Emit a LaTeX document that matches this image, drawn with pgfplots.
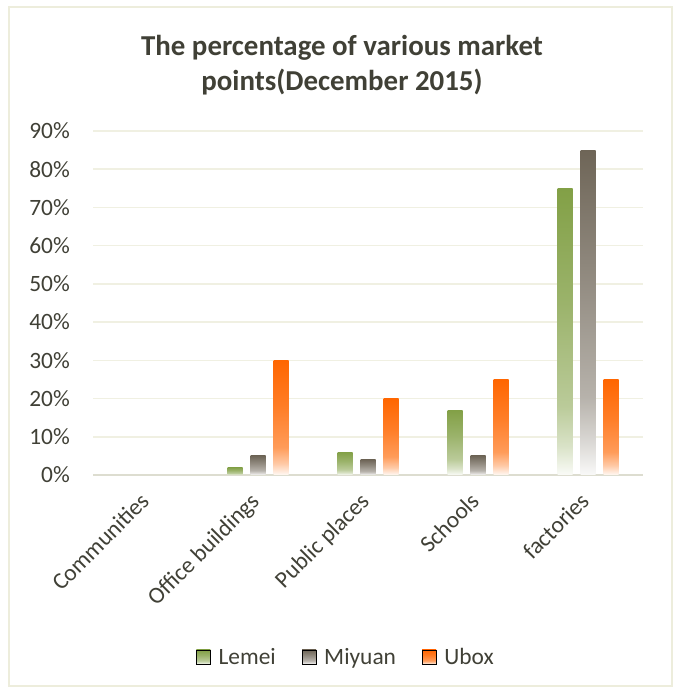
\documentclass[border=0pt]{standalone}
\usepackage{pgfplots}
\pgfplotsset{compat=1.18}
\usepackage{fontspec}
\setmainfont{Carlito}
\definecolor{txt}{HTML}{404036}
\definecolor{lem}{HTML}{82A046}
\definecolor{miy}{HTML}{6E6557}
\definecolor{ubx}{HTML}{FF6600}
\definecolor{gridc}{HTML}{F0F0E2}
\definecolor{bord}{HTML}{EDEDDC}
\pgfdeclareverticalshading{lemsh}{100bp}{color(0bp)=(lem!4); color(25bp)=(lem!4); color(30bp)=(lem!30); color(37bp)=(lem!55); color(55bp)=(lem!80); color(75bp)=(lem); color(100bp)=(lem)}
\pgfdeclareverticalshading{miysh}{100bp}{color(0bp)=(miy!4); color(25bp)=(miy!4); color(30bp)=(miy!25); color(37bp)=(miy!50); color(55bp)=(miy!75); color(75bp)=(miy); color(100bp)=(miy)}
\pgfdeclareverticalshading{ubxsh}{100bp}{color(0bp)=(ubx!4); color(25bp)=(ubx!4); color(30bp)=(ubx!35); color(37bp)=(ubx!65); color(55bp)=(ubx!85); color(75bp)=(ubx); color(100bp)=(ubx)}
% one bar per \addplot so that each bar gets its own gradient
\newcommand\onebar[4]{\addplot[ybar, bar width=15bp, bar shift=#1, draw=none, shading=#2, forget plot] coordinates {(#3,#4)};}
\begin{document}
\begin{tikzpicture}
\path[use as bounding box] (0,0) rectangle (678bp,693bp);
\draw[bord, line width=1.5bp] (9bp,7bp) rectangle (672bp,686bp);
\node[font=\fontsize{29}{35}\selectfont\bfseries, text=txt, align=center] at (342bp,628bp) {The percentage of various market\\points(December 2015)};
\begin{axis}[
  scale only axis,
  width=550bp, height=344bp,
  at={(93bp,218bp)}, anchor=south west,
  xmin=-0.5, xmax=4.5, ymin=0, ymax=90,
  xtick={0,1,2,3,4},
  xticklabels={Communities,Office buildings,Public places,Schools,factories},
  ytick={0,10,...,90},
  yticklabel={\pgfmathprintnumber{\tick}\%},
  /pgf/number format/assume math mode=true,
  ticklabel style={font=\fontsize{23.5}{28}\selectfont, text=txt},
  yticklabel style={inner sep=0pt, xshift=-23bp},
  xticklabel style={inner sep=0pt, xshift=-9bp, yshift=-16bp, rotate=45, anchor=north east},
  major tick length=0pt,
  axis x line*=bottom, axis y line*=left,
  y axis line style={draw=none},
  x axis line style={draw=gridc!92!black, line width=1.5bp},
  ymajorgrids, grid style={gridc, line width=1.5bp},
  legend columns=3,
  legend style={at={(rel axis cs:0.46,-0.529)}, anchor=center, draw=none, fill=none,
    font=\fontsize{23.5}{28}\selectfont, text=txt,
    /tikz/every even column/.append style={column sep=24bp}},
  legend cell align=left,
]
% Communities: 0 for every series (no bars drawn)
% Office buildings
\onebar{-23bp}{lemsh}{1}{2}
\onebar{0bp}{miysh}{1}{5}
\onebar{23bp}{ubxsh}{1}{30}
% Public places
\onebar{-23bp}{lemsh}{2}{6}
\onebar{0bp}{miysh}{2}{4}
\onebar{23bp}{ubxsh}{2}{20}
% Schools
\onebar{-23bp}{lemsh}{3}{17}
\onebar{0bp}{miysh}{3}{5}
\onebar{23bp}{ubxsh}{3}{25}
% factories
\onebar{-23bp}{lemsh}{4}{75}
\onebar{0bp}{miysh}{4}{85}
\onebar{23bp}{ubxsh}{4}{25}
\addlegendimage{legend image code/.code={\path[shading=lemsh] (0bp,-7bp) rectangle (14bp,7bp); \path (20bp,0bp);}}
\addlegendentry{Lemei}
\addlegendimage{legend image code/.code={\path[shading=miysh] (0bp,-7bp) rectangle (14bp,7bp); \path (20bp,0bp);}}
\addlegendentry{Miyuan}
\addlegendimage{legend image code/.code={\path[shading=ubxsh] (0bp,-7bp) rectangle (14bp,7bp); \path (20bp,0bp);}}
\addlegendentry{Ubox}
\end{axis}
\end{tikzpicture}
\end{document}
